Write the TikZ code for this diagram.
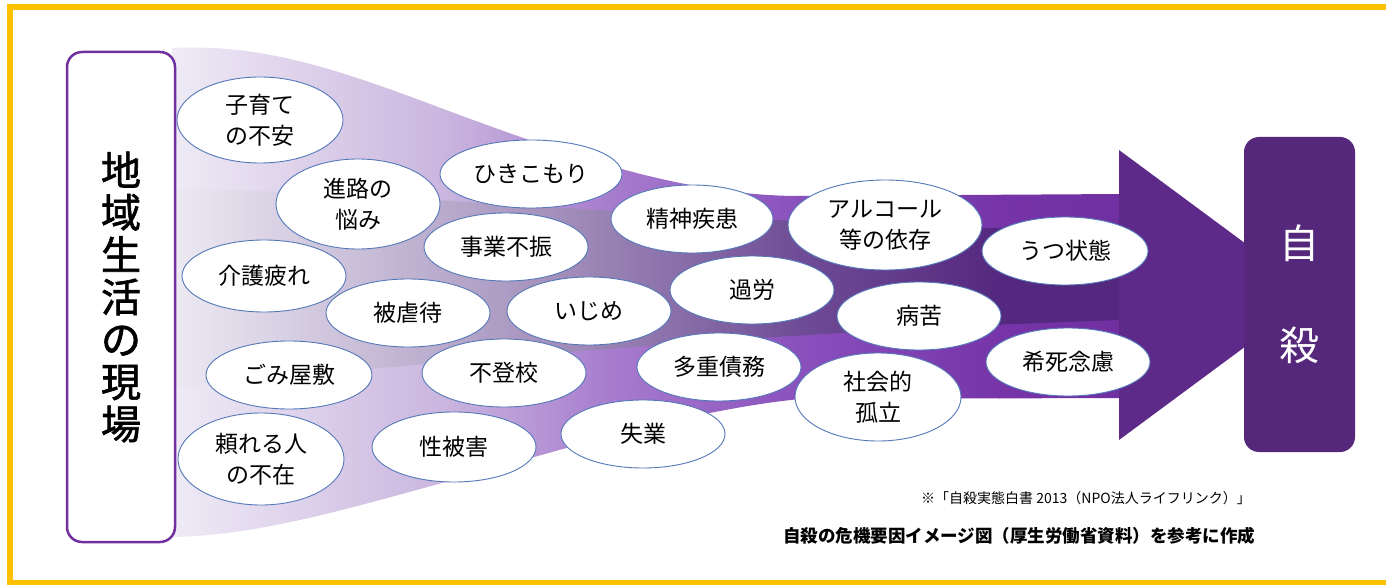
\documentclass[tikz,border=0pt]{standalone}
\usepackage{fontspec}
\setmainfont{Noto Sans CJK JP}
\newfontfamily\medfont[FakeBold=1.6]{Noto Sans CJK JP}
\usetikzlibrary{shapes.geometric}
\definecolor{ybord}{HTML}{FFC000}
\definecolor{pline}{HTML}{7030A0}
\definecolor{bline}{HTML}{5478B8}
\definecolor{arrowc}{HTML}{5E2A8A}
\definecolor{boxc}{HTML}{56287C}
\definecolor{f0}{HTML}{EFEBF6}
\definecolor{f1}{HTML}{C9B4DE}
\definecolor{f2}{HTML}{A97FCF}
\definecolor{f3}{HTML}{8A50BC}
\definecolor{f4}{HTML}{7634A8}
\definecolor{f5}{HTML}{7030A0}
\definecolor{m0}{HTML}{EDEAF3}
\definecolor{m1}{HTML}{B8A9CB}
\definecolor{m2}{HTML}{9A84B4}
\definecolor{m3}{HTML}{6F4C96}
\definecolor{m4}{HTML}{55287F}
\definecolor{m5}{HTML}{55287F}
\begin{document}
\begin{tikzpicture}[x=1pt,y=-1pt,
  bub/.style={ellipse, draw=bline, line width=0.9pt, fill=white, inner sep=0pt,
    align=center, font=\fontsize{23}{31}\selectfont},
  sidebox/.style={draw=pline, line width=2.5pt, fill=white, rounded corners=15pt,
    inner sep=0pt, align=center},
  endbox/.style={fill=boxc, rounded corners=15pt, inner sep=0pt, align=center, text=white},
  capt/.style={inner sep=0pt}]
\useasboundingbox (0,0) rectangle (1386,585);
\fill[white] (0,0) rectangle (1386,585);
\draw[ybord, line width=6pt] (10,7) rectangle (1400,583);

% funnel
\begin{scope}
\clip (172,48) .. controls (260,44) and (330,66) .. (446,110) .. controls (560,152) and (680,196) .. (800,196) -- (1122,194) -- (1122,398) -- (800,399) .. controls (690,410) and (560,450) .. (446,482) .. controls (360,505) and (260,536) .. (172,537) -- cycle;
\foreach \xa/\xb/\ca/\cb in {172/450/f0/f1, 449/600/f1/f2, 599/800/f2/f3, 799/1000/f3/f4, 999/1122/f4/f5}
  \shade[left color=\ca, right color=\cb] (\xa,0) rectangle (\xb,600);
\clip (172,188) .. controls (450,195) and (750,228) .. (1122,230) -- (1122,320) .. controls (800,330) and (450,360) .. (172,388) -- cycle;
\foreach \xa/\xb/\ca/\cb in {172/450/m0/m1, 449/600/m1/m2, 599/800/m2/m3, 799/1000/m3/m4, 999/1122/m4/m5}
  \shade[left color=\ca, right color=\cb] (\xa,0) rectangle (\xb,600);
\end{scope}

% arrow head
\fill[arrowc] (1119,150) -- (1315,295) -- (1119,440) -- cycle;

% bubbles
\node[bub, minimum width=166, minimum height=86] (k1) at (260,120) {子育て\\の不安};
\node[bub, minimum width=164, minimum height=90] (k2) at (358,204) {進路の\\悩み};
\node[bub, minimum width=182, minimum height=68] (k3) at (531,174) {ひきこもり};
\node[bub, minimum width=162, minimum height=68] (k4) at (692,219) {精神疾患};
\node[bub, minimum width=194, minimum height=90] (k5) at (885,225) {アルコール\\等の依存};
\node[bub, minimum width=166, minimum height=68] (k6) at (1065,251) {うつ状態};
\node[bub, minimum width=164, minimum height=68] (k7) at (506,247) {事業不振};
\node[bub, minimum width=164, minimum height=72] (k8) at (264,276) {介護疲れ};
\node[bub, minimum width=164, minimum height=68] (k9) at (408,313) {被虐待};
\node[bub, minimum width=164, minimum height=68] (k10) at (589,311) {いじめ};
\node[bub, minimum width=164, minimum height=68] (k11) at (752,290) {過労};
\node[bub, minimum width=164, minimum height=68] (k12) at (919,316) {病苦};
\node[bub, minimum width=164, minimum height=68] (k13) at (1068,362) {希死念慮};
\node[bub, minimum width=166, minimum height=88] (k14) at (878,397) {社会的\\孤立};
\node[bub, minimum width=164, minimum height=68] (k15) at (719,367) {多重債務};
\node[bub, minimum width=166, minimum height=68] (k16) at (289,375) {ごみ屋敷};
\node[bub, minimum width=164, minimum height=68] (k17) at (504,373) {不登校};
\node[bub, minimum width=166, minimum height=92] (k18) at (261,459) {頼れる人\\の不在};
\node[bub, minimum width=164, minimum height=70] (k19) at (454,447) {性被害};
\node[bub, minimum width=164, minimum height=68] (k20) at (643,434) {失業};

% boxes
\node[sidebox, minimum width=108, minimum height=490,
  font=\medfont\fontsize{40}{42.3}\selectfont] (genba) at (121,297) {地\\域\\生\\活\\の\\現\\場};
\node[endbox, minimum width=111, minimum height=315,
  font=\fontsize{40}{102}\selectfont] (jisatsu) at (1299.5,294.5) {自\\殺};

% captions
\node[capt, anchor=east, font=\fontsize{14}{16}\selectfont] (note) at (1251,498) {※「自殺実態白書 2013（NPO法人ライフリンク）」};
\node[capt, anchor=west, font=\fontsize{17.5}{20}\selectfont\bfseries] (cap) at (783,536) {自殺の危機要因イメージ図（厚生労働省資料）を参考に作成};
\end{tikzpicture}
\end{document}
